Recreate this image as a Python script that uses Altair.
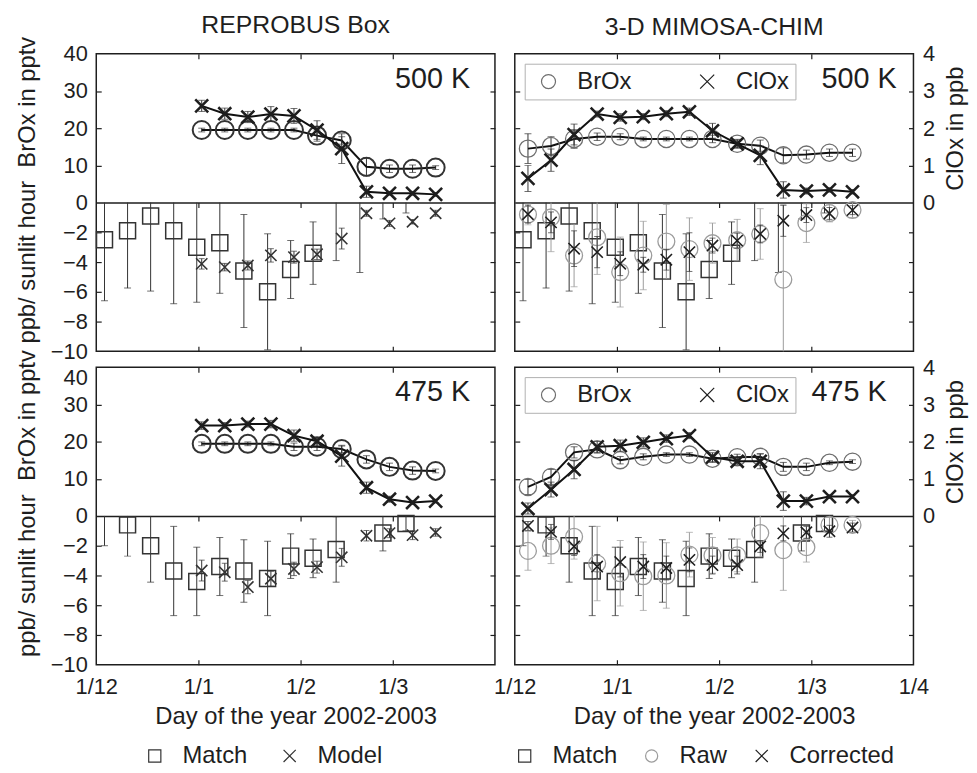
import altair as alt
import pandas as pd

# ---------------- data ----------------
x_tick_days = [0, 31, 62, 90, 121]          # days since 1 Dec 2002
x_tick_labels = ["1/12", "1/1", "1/2", "1/3", "1/4"]
y_tick_values = [-10, -8, -6, -4, -2, 0, 10, 20, 30, 40]
clox_tick_values = [0, 10, 20, 30, 40]       # ClOx axis (x10) -> 0..4 ppb

# REPROBUS Box model (upper: BrOx pptv, ClOx ppb; lower: ozone loss ppb/sunlit hour)
rep_days = [32, 39, 46, 53, 60, 67, 74.5, 82, 89, 96, 103]
rep500_brox = [19.5, 19.5, 19.5, 19.5, 19.5, 18.0, 16.7, 9.6, 9.1, 9.1, 9.4]
rep500_brox_err = [0.5, 0.5, 0.5, 0.5, 0.5, 1.5, 1.0, 2.5, 1.0, 1.0, 0.5]
rep500_clox = [2.6, 2.39, 2.3, 2.38, 2.33, 1.95, 1.45, 0.29, 0.25, 0.25, 0.22]
rep500_clox_err = [0.15, 0.15, 0.15, 0.2, 0.2, 0.25, 0.4, 0.15, 0.05, 0.05, 0.05]
rep500_model = [-4.12, -4.34, -4.23, -3.55, -3.67, -3.48, -2.42, -0.72, -1.4, -1.29, -0.72]
rep500_model_err = [0.35, 0.25, 0.3, 0.45, 0.4, 0.35, 0.7, 0.2, 0.2, 0.15, 0.2]

rep475_brox = [19.4, 19.4, 19.4, 19.4, 18.6, 18.6, 18.0, 15.2, 13.2, 12.2, 12.1]
rep475_brox_err = [0.5, 0.5, 0.5, 0.5, 1.0, 1.0, 1.0, 1.0, 1.0, 1.0, 0.5]
rep475_clox = [2.43, 2.43, 2.47, 2.47, 2.16, 2.01, 1.61, 0.76, 0.45, 0.36, 0.40]
rep475_clox_err = [0.1, 0.08, 0.08, 0.1, 0.15, 0.12, 0.27, 0.15, 0.08, 0.05, 0.05]
rep475_model = [-3.67, -3.78, -4.78, -4.22, -3.56, -3.44, -2.78, -1.33, -1.16, -1.29, -1.11]
rep475_model_err = [0.7, 0.6, 0.45, 0.5, 0.45, 0.4, 0.6, 0.35, 0.3, 0.3, 0.25]

# Match ozone loss rates (ppb / sunlit hour)
match500_days = [2.5, 9.5, 16.5, 23.5, 30.5, 37.5, 44.8, 52, 59, 65.8, 72.8, 80, 87, 94]
match500 = [-2.5, -1.9, -0.9, -1.9, -3.0, -2.7, -4.6, -6.0, -4.5, -3.4, 1.0, 1.0, 1.0, 1.0]
match500_err = [4.1, 3.85, 5.05, 4.9, 3.7, 3.4, 3.8, 3.9, 1.95, 2.1, 4.9, 5.7, 2.1, 1.7]
match475_days = [2.5, 9.5, 16.5, 23.5, 30.5, 37.5, 44.8, 52, 59, 65.8, 72.8, 87, 94]
match475 = [1.5, -0.6, -2.0, -3.7, -4.4, -3.4, -3.7, -4.2, -2.7, -2.85, -2.25, -1.15, -0.5]
match475_err = [3.5, 2.1, 2.45, 3.0, 2.3, 1.95, 2.1, 2.5, 1.5, 1.3, 2.2, 1.2, 0.5]

# 3-D MIMOSA-CHIM
mim_days = [4, 11, 18, 25, 32, 39, 46, 53, 60, 67.5, 74.5, 81.5, 88.5, 95.5, 102.5]
mim500_brox = [14.5, 15.2, 17.1, 17.7, 17.7, 17.1, 17.1, 17.1, 17.1, 15.8, 15.3, 12.7, 12.9, 13.4, 13.4]
mim500_brox_err = [4.0, 2.5, 2.5, 1.0, 0.8, 0.5, 0.5, 0.5, 1.0, 1.0, 1.5, 2.0, 1.2, 1.0, 1.0]
mim500_clox = [0.65, 1.14, 1.83, 2.38, 2.29, 2.31, 2.39, 2.44, 1.93, 1.58, 1.27, 0.34, 0.31, 0.34, 0.29]
mim500_clox_err = [0.35, 0.3, 0.28, 0.08, 0.1, 0.08, 0.08, 0.1, 0.2, 0.12, 0.25, 0.22, 0.08, 0.06, 0.06]
mim500_raw = [-0.8, -1.0, -3.56, -2.33, -4.67, -3.56, -2.62, -3.13, -2.73, -2.53, -2.11, -5.18, -1.38, -0.7, -0.5]
mim500_raw_err = [0.7, 2.3, 2.1, 2.5, 2.35, 2.3, 2.5, 2.1, 1.35, 1.4, 1.7, 5.0, 1.3, 0.6, 0.5]
mim500_corr = [-0.78, -1.33, -3.1, -3.33, -4.11, -4.18, -3.84, -3.33, -2.89, -2.56, -2.11, -1.22, -0.84, -0.73, -0.51]
mim500_corr_err = [0.6, 0.7, 1.2, 1.05, 0.8, 0.5, 0.7, 1.3, 0.5, 0.5, 0.6, 1.05, 0.5, 0.4, 0.3]

mim475_brox = [7.8, 10.5, 17.1, 17.9, 15.0, 15.9, 16.5, 16.5, 15.4, 15.8, 15.9, 13.2, 13.2, 14.3, 14.6]
mim475_brox_err = [2.0, 2.0, 1.5, 1.0, 1.0, 0.8, 0.5, 0.5, 1.0, 0.8, 0.8, 1.2, 1.0, 0.5, 0.5]
mim475_clox = [0.2, 0.71, 1.25, 1.86, 1.89, 1.98, 2.08, 2.16, 1.58, 1.47, 1.47, 0.4, 0.4, 0.52, 0.52]
mim475_clox_err = [0.15, 0.2, 0.25, 0.15, 0.15, 0.12, 0.1, 0.08, 0.12, 0.1, 0.2, 0.25, 0.1, 0.05, 0.05]
mim475_raw = [-2.35, -2.0, -1.4, -3.2, -3.85, -4.05, -4.0, -2.6, -2.65, -2.65, -1.15, -2.3, -2.1, -0.6, -0.6]
mim475_raw_err = [1.3, 1.2, 1.5, 2.5, 2.2, 2.3, 2.2, 1.5, 1.2, 1.1, 1.6, 2.7, 1.0, 0.5, 0.3]
mim475_corr = [-0.67, -1.07, -2.05, -3.4, -3.1, -3.4, -3.5, -2.95, -3.3, -3.3, -2.05, -1.17, -1.1, -1.03, -0.78]
mim475_corr_err = [0.3, 0.5, 0.6, 0.8, 1.0, 0.8, 0.8, 0.8, 0.6, 0.6, 0.4, 0.5, 0.4, 0.4, 0.3]

# ---------------- style ----------------
FONT = "Liberation Sans"
DARK = "#1e1e1e"
MARK = "#333333"
GRAY = "#6e6e6e"
LIGHT = "#9c9c9c"
W, H = 402, 300
XPATH = "M -1 -1 L 1 1 M -1 1 L 1 -1"
NB = "\u00a0"

XS = alt.Scale(domain=[0, 121], nice=False, zero=False)
YS = alt.Scale(domain=[-10, 0, 40], range=[H, H / 2, 0], nice=False, zero=False)

label_expr = "".join(f"datum.value == {d} ? '{l}' : " for d, l in zip(x_tick_days, x_tick_labels)) + "''"
inner_x = x_tick_days[1:-1]
inner_y = [v for v in y_tick_values if v not in (-10, 0, 40)]

AX = dict(grid=False, domainColor=DARK, tickColor=DARK, domainWidth=1.5, tickWidth=1.2,
          labelFont=FONT, titleFont=FONT, labelColor=DARK, titleColor=DARK,
          titleFontWeight="normal")


def axis_pairs(row, col):
    xa = alt.Axis(orient="bottom", values=x_tick_days if col == 1 else x_tick_days[:-1],
                  labelExpr=label_expr, labels=(row == 1), labelFlush=False, ticks=False,
                  domain=False, labelFontSize=22, labelPadding=12, titleFontSize=24,
                  titlePadding=7, title=("Day of the year 2002-2003" if row == 1 else None), **AX)
    xb = alt.Axis(orient="top", offset=-H, values=inner_x, labels=False, domain=False,
                  tickSize=5, title=None, **AX)
    xc = alt.Axis(orient="bottom", offset=-H, values=inner_x, labels=False, domain=False,
                  tickSize=5, title=None, **AX)
    xd = alt.Axis(orient="bottom", offset=-H / 2, values=inner_x, labels=False, domain=True,
                  tickSize=5, title=None, **AX)
    # bottom-left panel: the top "40" label sits a little lower, as in the original
    main_vals = y_tick_values[:-1] if (row == 1 and col == 0) else y_tick_values
    ya = alt.Axis(orient="left", values=main_vals, labels=(col == 0), ticks=False, domain=False,
                  labelFontSize=22, labelPadding=9, titleFontSize=24, titlePadding=11, titleY=137,
                  title=(f"ppb/ sunlit hour{NB}{NB}BrOx in pptv" if col == 0 else None), **AX)
    yb = alt.Axis(orient="right", offset=-W, values=inner_y, labels=False, domain=False,
                  tickSize=5, title=None, **AX)
    yc = alt.Axis(orient="left", offset=-W, values=inner_y, labels=False, domain=False,
                  tickSize=5, title=None, **AX)
    if col == 1:
        yd = alt.Axis(orient="right", values=clox_tick_values, labelExpr="datum.value / 10",
                      ticks=False, domain=False, labelFontSize=22, labelPadding=9,
                      title="ClOx in ppb", titleFontSize=24, titleAngle=270, titleBaseline="top",
                      titleY=H / 4, titlePadding=9, **AX)
    else:
        yd = None
    pairs = [(xa, ya), (xb, yb), (xc, yc), (xd, yd)]
    if row == 1 and col == 0:
        ye = alt.Axis(orient="left", values=y_tick_values[-1:], labels=True, ticks=False,
                      domain=False, labelFontSize=22, labelPadding=9, labelOffset=10,
                      title=None, **AX)
        pairs.append((None, ye))
    return iter(pairs)


def next_axes(it):
    return next(it, (None, None))


def xenc(field, axis=None):
    return alt.X(f"{field}:Q", scale=XS, axis=axis)


def yenc(field, axis=None):
    return alt.Y(f"{field}:Q", scale=YS, axis=axis)


def series(days, vals, errs, name, mult, lo_clip, hi_clip, rule_color, cap_w, mark_kw,
           shape_scale, color_scale, legend, line, axes_it):
    df = pd.DataFrame({"day": days, "v": vals, "err": errs})
    df["kind"] = name
    base = alt.Chart(df).transform_calculate(
        yv=f"datum.v * {mult}",
        lo_raw=f"(datum.v - datum.err) * {mult}",
        hi_raw=f"(datum.v + datum.err) * {mult}",
    ).transform_calculate(
        lo=f"max({lo_clip}, datum.lo_raw)",
        hi=f"min({hi_clip}, datum.hi_raw)",
    )
    out = []
    ax = next_axes(axes_it)
    out.append(base.mark_rule(color=rule_color, strokeWidth=1).encode(
        x=xenc("day", ax[0]), y=yenc("lo", ax[1]), y2=alt.Y2("hi:Q")))
    ax = next_axes(axes_it)
    out.append(base.transform_filter(f"datum.lo_raw > {lo_clip}").mark_tick(
        orient="horizontal", size=cap_w, thickness=1, color=rule_color).encode(
        x=xenc("day", ax[0]), y=yenc("lo", ax[1])))
    ax = next_axes(axes_it)
    out.append(base.transform_filter(f"datum.hi_raw < {hi_clip}").mark_tick(
        orient="horizontal", size=cap_w, thickness=1, color=rule_color).encode(
        x=xenc("day", ax[0]), y=yenc("hi", ax[1])))
    if line:
        out.append(base.mark_line(color="#111111", strokeWidth=2).encode(
            x=xenc("day"), y=yenc("yv")))
    ax = next_axes(axes_it)
    pts = base.transform_filter(f"datum.yv < {hi_clip} && datum.yv > {lo_clip}")
    out.append(pts.mark_point(filled=False, opacity=1, **mark_kw).encode(
        x=xenc("day", ax[0]), y=yenc("yv", ax[1]),
        shape=alt.Shape("kind:N", scale=shape_scale, legend=legend),
        color=alt.Color("kind:N", scale=color_scale, legend=legend)))
    return out


def panel(row, col, level, level_dx, upper, lower, title=None, title_offset=0):
    none_it = iter([])
    axes_it = axis_pairs(row, col)
    # upper part (BrOx / ClOx)
    up_names = [u["name"] for u in upper]
    up_shape = alt.Scale(domain=up_names, range=["circle", XPATH])
    up_color = alt.Scale(domain=up_names, range=[upper[0]["pcolor"], DARK])
    if col == 1:
        up_legend = alt.Legend(orient="top-left", offset=10, direction="horizontal", title=None,
                               labelFontSize=24, labelFont=FONT, labelColor=DARK,
                               symbolSize=200, symbolStrokeWidth=1.2, strokeColor="#b0b0b0",
                               padding=6, symbolOffset=6, columnPadding=58, labelOffset=17,
                               labelExpr=f"datum.label == 'ClOx' ? 'ClOx{NB * 8}' : datum.label")
    else:
        up_legend = None
    up_layers = []
    for u in upper:
        up_layers += series(u["days"], u["v"], u["err"], u["name"], u["mult"], 0, 40,
                            u["rcolor"], 7, u["mk"], up_shape, up_color, up_legend, True, none_it)
    # lower part (ozone loss rates)
    lo_names = [s["name"] for s in lower]
    lo_shape = alt.Scale(domain=lo_names, range=[s["shape"] for s in lower])
    lo_color = alt.Scale(domain=lo_names, range=[s["pcolor"] for s in lower])
    if row == 1:
        lo_legend = alt.Legend(orient="none", legendX=lower[0]["lx"], legendY=380,
                               direction="horizontal", title=None, labelFontSize=24,
                               labelFont=FONT, labelColor=DARK, symbolSize=150,
                               symbolStrokeWidth=1.2, columnPadding=lower[0]["cp"],
                               labelOffset=16)
    else:
        lo_legend = None
    lo_layers = []
    for s in lower:
        lo_layers += series(s["days"], s["v"], s["err"], s["name"], 1, -10, 0,
                            s["rcolor"], s["cap"], s["mk"], lo_shape, lo_color, lo_legend,
                            False, axes_it)
    txt = alt.Chart(pd.DataFrame({"t": [level]})).mark_text(
        align="right", baseline="middle", fontSize=29, font=FONT, color=DARK).encode(
        x=alt.value(W - level_dx), y=alt.value(25), text="t:N")
    up = alt.layer(*up_layers).resolve_axis(x="independent", y="independent")
    lo = alt.layer(*lo_layers).resolve_axis(x="independent", y="independent")
    ch = alt.layer(up, lo, txt).resolve_scale(shape="independent", color="independent").resolve_axis(
        x="independent", y="independent")
    props = dict(width=W, height=H)
    if title:
        props["title"] = alt.TitleParams(title, fontSize=25, font=FONT, fontWeight="normal",
                                         color=DARK, offset=title_offset, anchor="middle")
    return ch.properties(**props)


def rep_upper(brox, brox_err, clox, clox_err):
    return [
        dict(name="BrOx", days=rep_days, v=brox, err=brox_err, mult=1, pcolor=MARK, rcolor=MARK,
             mk=dict(size=330, strokeWidth=2)),
        dict(name="ClOx", days=rep_days, v=clox, err=clox_err, mult=10, pcolor=DARK, rcolor=MARK,
             mk=dict(size=170, strokeWidth=2.6)),
    ]


def mim_upper(brox, brox_err, clox, clox_err):
    return [
        dict(name="BrOx", days=mim_days, v=brox, err=brox_err, mult=1, pcolor=GRAY, rcolor=MARK,
             mk=dict(size=300, strokeWidth=1.3)),
        dict(name="ClOx", days=mim_days, v=clox, err=clox_err, mult=10, pcolor=DARK, rcolor=MARK,
             mk=dict(size=170, strokeWidth=2.6)),
    ]


def rep_lower(mdays, m, merr, model, model_err):
    return [
        dict(name="Match", days=mdays, v=m, err=merr, shape="square", pcolor=MARK, rcolor=MARK,
             cap=7, mk=dict(size=260, strokeWidth=1.5), lx=47, cp=30),
        dict(name="Model", days=rep_days, v=model, err=model_err, shape=XPATH, pcolor=MARK,
             rcolor=MARK, cap=6, mk=dict(size=130, strokeWidth=1.6)),
    ]


def mim_lower(mdays, m, merr, raw, raw_err, corr, corr_err):
    return [
        dict(name="Match", days=mdays, v=m, err=merr, shape="square", pcolor=MARK, rcolor=MARK,
             cap=7, mk=dict(size=260, strokeWidth=1.5), lx=-2, cp=22),
        dict(name="Raw", days=mim_days, v=raw, err=raw_err, shape="circle", pcolor=LIGHT,
             rcolor=LIGHT, cap=7, mk=dict(size=290, strokeWidth=1.3)),
        dict(name="Corrected", days=mim_days, v=corr, err=corr_err, shape=XPATH, pcolor=DARK,
             rcolor=MARK, cap=6, mk=dict(size=130, strokeWidth=1.6)),
    ]


p00 = panel(0, 0, "500 K", 25, rep_upper(rep500_brox, rep500_brox_err, rep500_clox, rep500_clox_err),
            rep_lower(match500_days, match500, match500_err, rep500_model, rep500_model_err),
            title="REPROBUS Box", title_offset=-2)
p01 = panel(0, 1, "500 K", 17, mim_upper(mim500_brox, mim500_brox_err, mim500_clox, mim500_clox_err),
            mim_lower(match500_days, match500, match500_err, mim500_raw, mim500_raw_err,
                      mim500_corr, mim500_corr_err),
            title="3-D MIMOSA-CHIM", title_offset=3)
p10 = panel(1, 0, "475 K", 25, rep_upper(rep475_brox, rep475_brox_err, rep475_clox, rep475_clox_err),
            rep_lower(match475_days, match475, match475_err, rep475_model, rep475_model_err))
p11 = panel(1, 1, "475 K", 27, mim_upper(mim475_brox, mim475_brox_err, mim475_clox, mim475_clox_err),
            mim_lower(match475_days, match475, match475_err, mim475_raw, mim475_raw_err,
                      mim475_corr, mim475_corr_err))

# plot areas placed exactly: panel (0,0) starts at page (97, 51); the page has an 8px margin
chart = alt.concat(p00, p01, p10, p11, columns=2, spacing={"row": 16, "column": 20},
                   bounds="flush").resolve_scale(
    shape="independent", color="independent").properties(
    autosize=alt.AutoSizeParams(type="none"),
    padding={"left": 89, "top": 43, "right": 880, "bottom": 722}
).configure(font=FONT).configure_view(stroke=DARK, strokeWidth=1.5)

chart.save("out.html", embed_options={"renderer": "svg", "actions": False})
